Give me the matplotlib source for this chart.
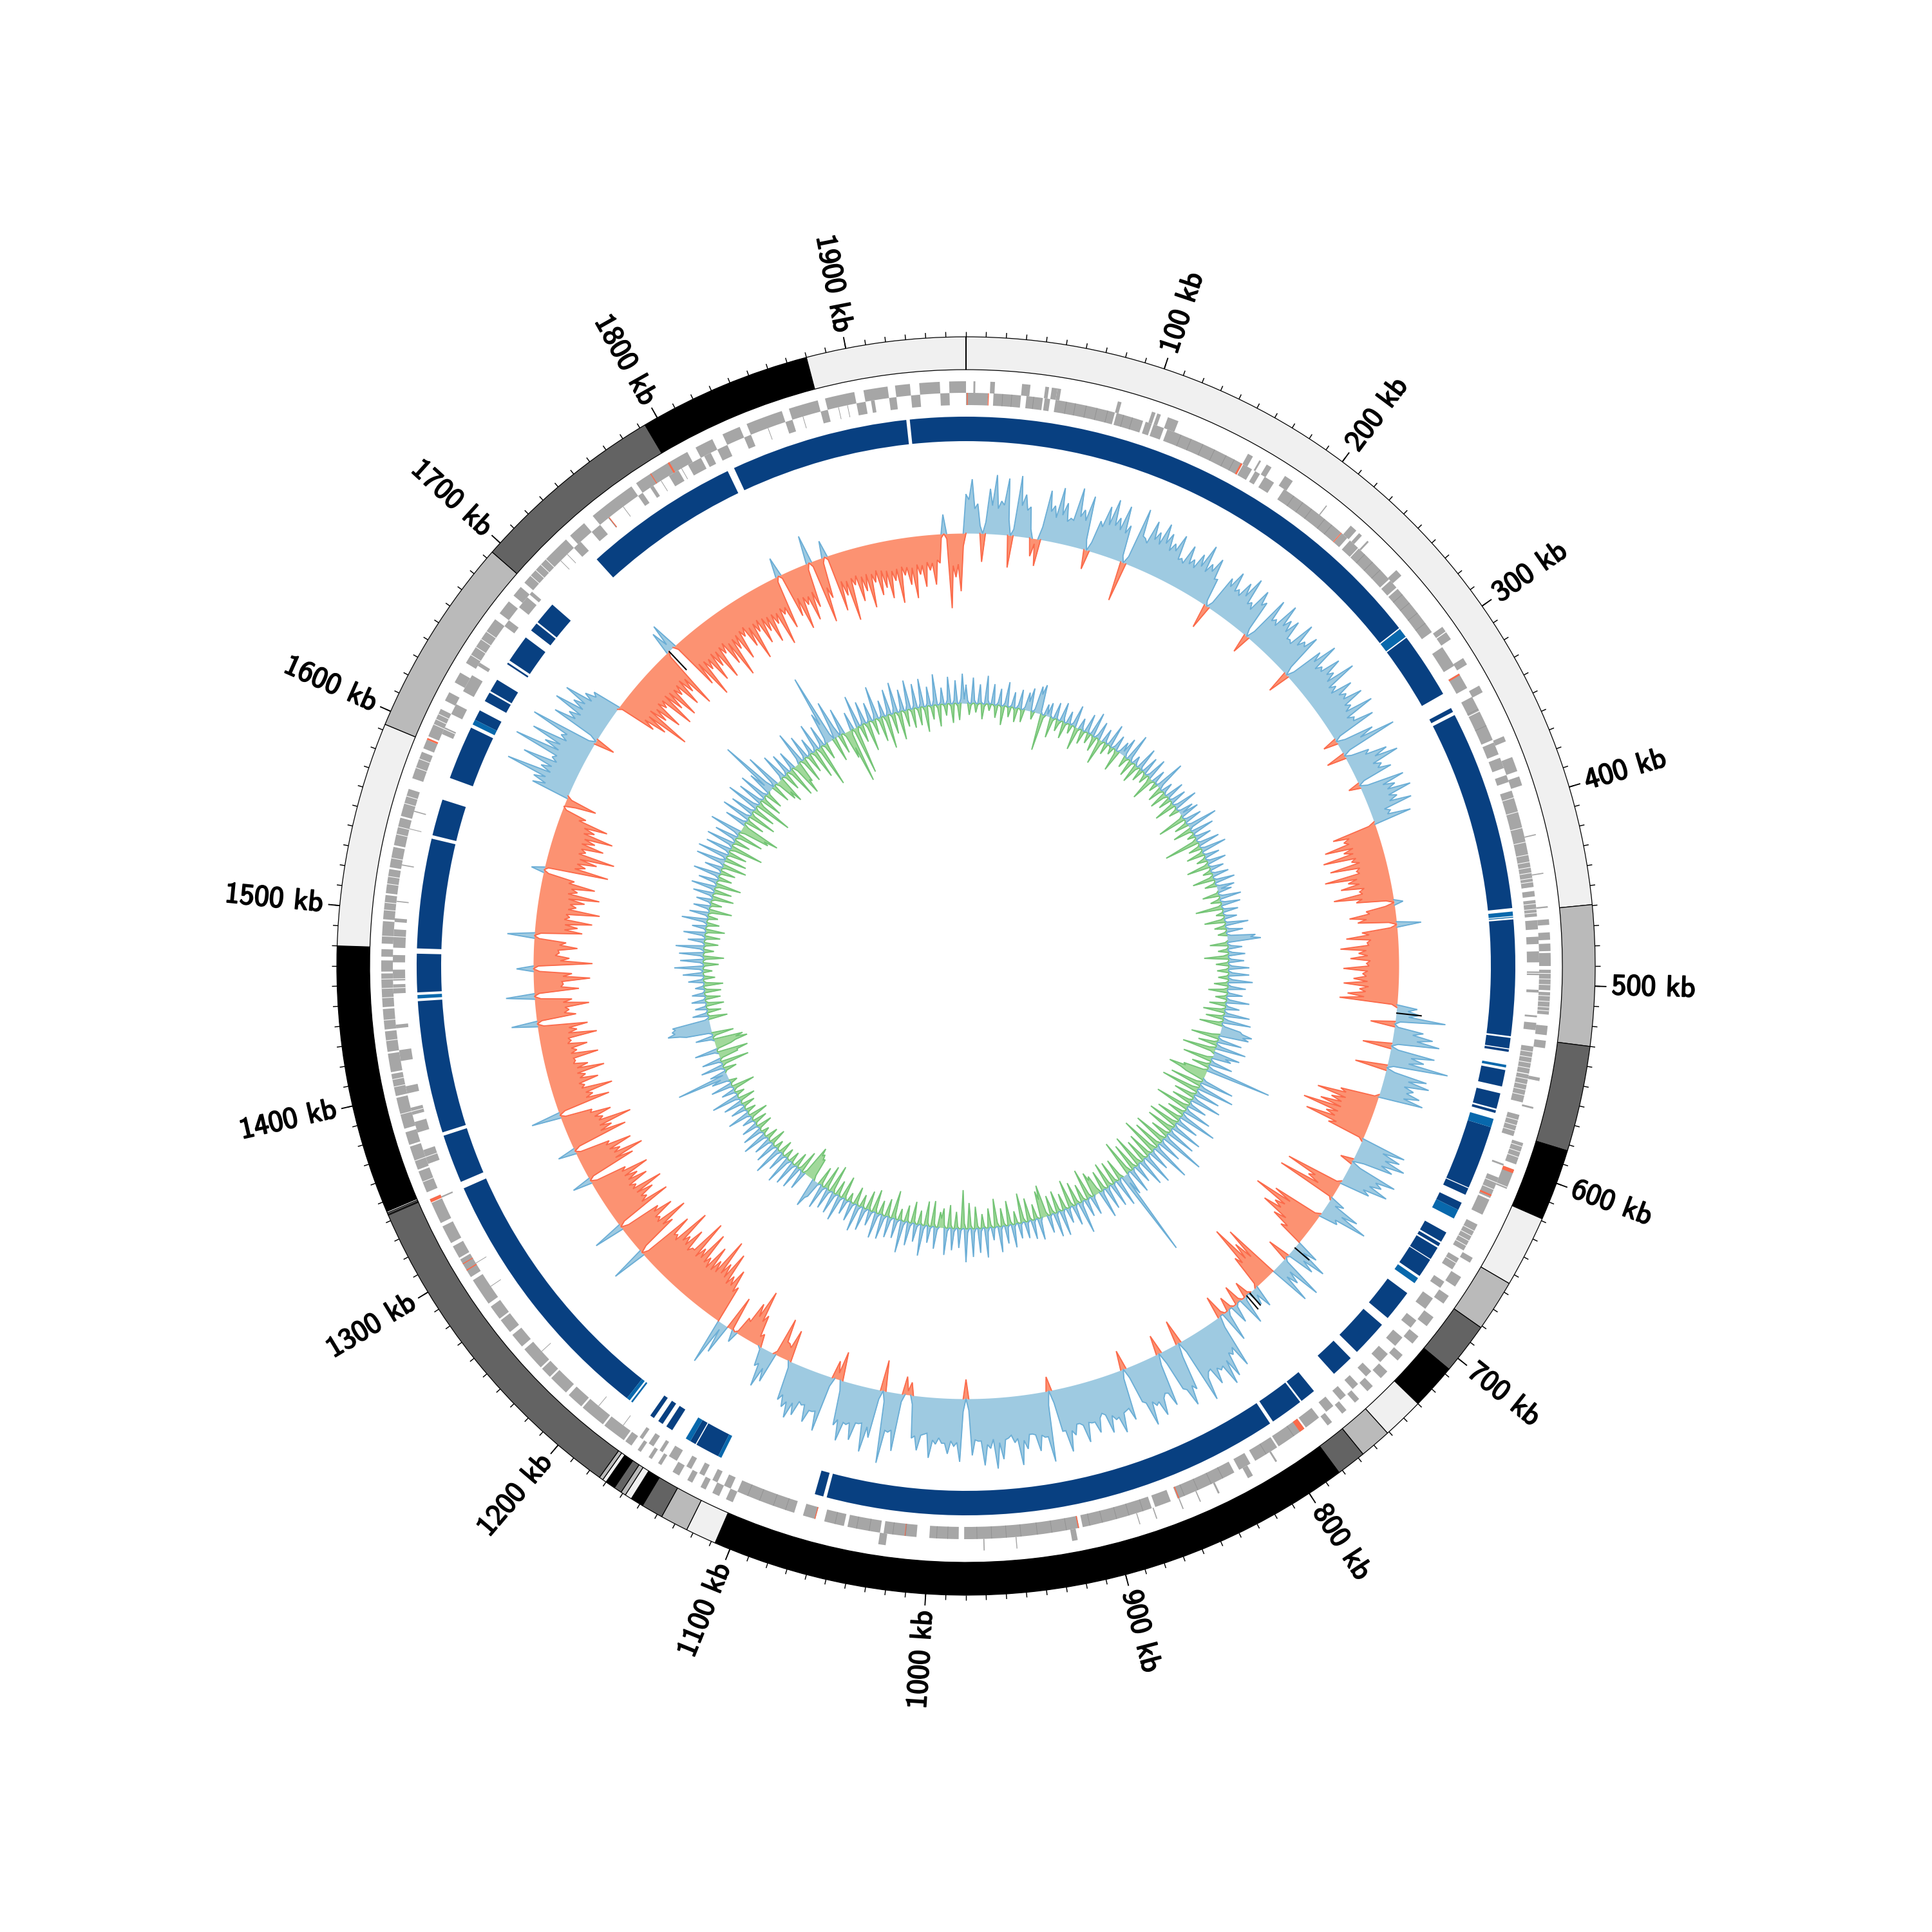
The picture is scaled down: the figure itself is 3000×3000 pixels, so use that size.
import numpy as np
import matplotlib
matplotlib.use("Agg")
import matplotlib.pyplot as plt
import matplotlib.patheffects as pe

TOTAL_KB = 1960
WINDOW_KB = 4

#outer ring: end of every segment (kb) and its shade
ring_ends = [459.5, 530, 583, 619, 655, 681, 707, 730, 751, 767, 782, 1108, 1123.5, 1137.5, 1148.5, 1155, 1158.5,
             1161, 1165, 1170, 1172, 1174, 1343, 1343.5, 1344.2, 1345, 1480, 1593, 1694, 1793, 1880, 1960]
ring_shades = ['l', 'g', 'd', 'k', 'l', 'g', 'd', 'k', 'l', 'g', 'd', 'k', 'l', 'g', 'd', 'k', 'l',
               'g', 'd', 'k', 'l', 'g', 'd', 'l', 'g', 'l', 'k', 'l', 'g', 'd', 'k', 'l']
shade_colors = {'l': '#f0f0f0', 'g': '#bababa', 'd': '#636363', 'k': '#000000'}

tick_labels = ["100 kb", "200 kb", "300 kb", "400 kb", "500 kb", "600 kb", "700 kb", "800 kb", "900 kb", "1000 kb",
               "1100 kb", "1200 kb", "1300 kb", "1400 kb", "1500 kb", "1600 kb", "1700 kb", "1800 kb", "1900 kb"]
tick_kb = [100, 200, 300, 400, 500, 600, 700, 800, 900, 1000, 1100, 1200, 1300, 1400, 1500, 1600, 1700, 1800, 1900]

#genes on the two strands (start, end in kb)
inner_genes = [(0, 12), (15, 30), (33, 42), (43, 46), (49, 82), (83, 98), (99.5, 103), (104, 110), (112, 157),
               (157.5, 163), (165, 168), (171, 177), (183.5, 222.5), (223, 227), (229, 235), (235.5, 259), (260, 265),
               (266, 296), (306, 318), (323, 332), (337.5, 346), (346.5, 363.5), (365, 372), (374, 380), (384, 388),
               (393, 447), (449, 452), (454, 463), (465, 470), (474, 478), (482, 488), (493, 495), (503, 504.5),
               (517, 518), (521, 525), (534, 549), (549.5, 565), (572, 584), (600, 601), (608, 620), (621, 630),
               (636, 652), (657, 664), (672, 676), (683, 690), (698, 703), (710, 716), (722, 728), (735, 739),
               (745, 749), (754, 758), (763, 768), (773, 782), (783, 800), (801, 815), (818, 825), (828, 862),
               (866, 875), (877, 916), (918, 981), (984, 1000), (1007, 1025), (1027, 1045), (1047, 1058), (1063, 1070),
               (1075, 1108), (1112, 1116), (1120, 1123), (1128, 1131), (1136, 1139), (1145, 1150), (1154, 1156),
               (1160, 1163), (1167, 1169), (1340, 1341), (1360, 1368), (1378, 1384), (1388, 1392), (1400, 1404),
               (1418, 1424), (1436, 1438), (1455, 1460), (1462, 1468), (1472, 1476), (1480, 1490), (1494, 1496),
               (1505, 1505.6), (1525, 1525.6), (1545, 1545.6), (1555, 1555.6), (1600, 1604), (1612, 1618), (1626, 1636),
               (1642, 1644), (1668, 1672), (1681, 1688), (1690, 1692), (1725, 1730), (1738, 1744), (1770, 1773),
               (1778, 1780), (1790, 1796), (1802, 1810), (1812, 1816), (1820, 1826), (1836, 1840), (1860, 1864),
               (1880, 1884), (1900, 1905), (1908, 1910), (1918, 1922), (1930, 1935), (1946, 1951)]
outer_genes = [(4, 5), (13, 15.5), (30, 34.5), (42.5, 44.5), (46, 49), (49, 51), (82, 84), (101, 103), (104, 106),
               (110, 116), (157, 160), (164, 165), (168.5, 171.5), (180, 185), (207, 207.6), (224, 228), (230, 232),
               (236, 237), (258, 262), (297, 300), (300.5, 305), (317, 321), (334, 338), (364, 367), (376, 384),
               (387, 392), (419, 419.6), (440, 440.6), (458, 459), (465, 468), (472, 476), (478, 482), (483, 490),
               (492, 503), (504, 516), (522, 527), (530, 534), (550, 552), (566, 567), (586, 598), (601, 612),
               (653, 656), (665, 671), (677, 682), (691, 697), (704, 709), (717, 721), (729, 734), (740, 744),
               (750, 753), (759, 762), (769, 772), (805, 806), (820, 823), (840, 841), (851, 851.6), (861, 861.6),
               (876, 876.6), (885.5, 886), (920, 923), (952.5, 953), (970, 970.6), (1023, 1027), (1108, 1112),
               (1116, 1120), (1124, 1127), (1132, 1135), (1140, 1144), (1151, 1153), (1157, 1159), (1164, 1166),
               (1170, 1174), (1175, 1188), (1189, 1203), (1204, 1213), (1215, 1226), (1227, 1233), (1234, 1247),
               (1249, 1257), (1259, 1267), (1268, 1276), (1278, 1293), (1295, 1306), (1307, 1314), (1316, 1326),
               (1328, 1342), (1346, 1358), (1359, 1372), (1373, 1380), (1382, 1399), (1400, 1412), (1413, 1423),
               (1424, 1435), (1436, 1447), (1448, 1466), (1467, 1473), (1475, 1479), (1482, 1494), (1495, 1508),
               (1509, 1522), (1523, 1534), (1535, 1550), (1551, 1566), (1572, 1587), (1589, 1594), (1596, 1612),
               (1617, 1622), (1628, 1634), (1640, 1668), (1672, 1680), (1684, 1690), (1693, 1725), (1728, 1738),
               (1744, 1770), (1773, 1805), (1810, 1820), (1826, 1836), (1840, 1860), (1864, 1880), (1884, 1900),
               (1905, 1918), (1922, 1930), (1935, 1946), (1951, 1960)]
inner_red = [(0.5, 1), (12, 12.5), (156, 157), (222.5, 223), (323, 324), (618, 619), (783, 786), (861, 861.6), (918, 918.6),
             (1013, 1013.5), (1063, 1063.5), (1750, 1750.6)]
outer_red = [(601, 603), (1299, 1299.6), (1303, 1303.5), (1340, 1342), (1594, 1595), (1782, 1782.5), (1793, 1794)]
gene_white = [397, 405, 414, 422, 429, 433, 436, 439, 442, 444, 447, 456, 459, 461, 494, 497, 500, 506, 509, 512, 514,
              537, 540, 543, 546, 552, 555, 558, 561, 575, 578, 581, 588, 591, 594, 611, 615, 640, 643, 646, 649, 660,
              1340, 1352, 1364, 1390, 1405, 1409, 1430, 1441, 1453, 1458, 1463, 1486, 1500, 1504, 1514, 1518, 1528, 1541,
              1545, 1558, 1562, 1578, 1583, 1603, 1606, 1609, 1645, 1650, 1655, 1660, 1698, 1702, 1706, 1710]
gene_dark = [20, 25, 37, 55, 60, 66, 72, 78, 87, 92, 120, 126, 133, 140, 147, 152, 190, 196, 202, 211, 216, 240, 246, 252,
             270, 276, 283, 290, 345, 355, 790, 808, 835, 842, 850, 858, 882, 890, 897, 905, 912, 925, 933, 941, 950, 958,
             966, 974, 990, 996, 1013, 1020, 1033, 1040, 1052, 1080, 1087, 1095, 1102, 1180, 1197, 1240, 1285, 1300, 1715,
             1720, 1750, 1760, 1785, 1798, 1850, 1870, 1890, 1895]

#conserved blocks, dark and medium blue (start, end in kb)
block_dark = [(0, 283.3), (290.2, 328.3), (337.5, 340), (342, 457), (463.5, 530), (531, 537), (537.6, 539), (549.5, 559),
              (563, 572), (573, 574.5), (583, 619.5), (620, 624), (629, 633.5), (648, 654), (655, 657), (658, 665.5),
              (666, 677), (689, 707), (712, 733), (738, 751), (766, 775), (776, 795), (797, 1060), (1062, 1067),
              (1126, 1140), (1140.6, 1144), (1156, 1160), (1162.5, 1165.5), (1168.5, 1171), (1187.5, 1340), (1344, 1372),
              (1374, 1450), (1455, 1477), (1480, 1543), (1545, 1566), (1579, 1610), (1615, 1621), (1627, 1632.5),
              (1633.5, 1641), (1651.5, 1652.5), (1654, 1670), (1675, 1680), (1681, 1694), (1730, 1820), (1824, 1926),
              (1928, 1960)]
block_medium = [(284, 289.5), (459, 461.5), (462, 462.5), (546.5, 548), (578, 583), (633.5, 639), (678.5, 682), (1124, 1126),
                (1144, 1147), (1183.5, 1184.5), (1185.5, 1187.5), (1451.5, 1453.5), (1612, 1615)]

#skew track, peaks every WINDOW_KB and the value halfway to the next one
skew = [60, 84, 46, -44, 70, 92, 52, 88, -50, 94, 66, 48, -28, -42, 78, 56, 86, 64, 42, 92, 60, 84, -30, 50, 76,
        90, 64, 86, 58, -62, 92, 48, 80, 66, 84, 72, 60, 78, 44, 70, 52, 66, 86, 60, 74, 44, -38, 58, 74, 50,
        68, 82, 46, 74, 60, -30, 78, 50, 84, 64, 70, 42, 80, 56, 72, -35, 62, 84, 50, 76, 58, 88, 48, 70, 54,
        76, 50, 82, 44, 72, -22, 60, 92, -30, 38, 64, 78, 46, 58, -18, 70, 52, 74, 48, 68, 30, 60, -70, -55, -88,
        -60, -95, -52, -88, -48, -100, -65, -78, -50, -92, -58, 14, -45, -72, -60, 38, -55, -80, -48, -90, -62, -75, -50, -86, -56,
        -70, -85, -60, -78, -90, 32, 36, 78, -38, 46, 62, 74, -45, 70, 55, 95, -50, 66, 72, 50, 62, 70, -60, -95, -70,
        -85, -110, -70, -100, -60, 72, 68, 80, 64, -20, 78, 60, 74, 48, -90, -50, -95, 25, 55, 75, 30, -80, -110, -70, -85,
        -60, -40, 38, 60, 45, -35, 72, 40, 66, -90, -70, -105, -55, 35, 25, -25, 45, -30, 30, -22, 50, -35, 85, 60, 92,
        100, 70, 88, 62, 105, -38, 76, 98, 66, -30, 84, 60, 92, 72, 100, 58, -30, 80, 62, 94, 70, 88, 54, 82, 64,
        92, 60, 76, 100, 66, -22, 110, 70, 90, 62, 84, 108, 72, 64, 96, 110, 78, 104, 66, 88, -30, 98, 74, 86, 70,
        72, 94, 58, 84, 66, -20, -28, 90, 62, 112, -48, 76, 100, 58, 86, 64, 92, 70, -45, -28, 88, 60, 80, 56, 76,
        84, 70, 62, -50, -25, -62, 48, 60, 30, -20, -48, -85, -60, -30, 18, -55, 48, 72, -60, -85, -70, -105, -82, -118, -76,
        -95, -70, -108, -75, -118, -62, -90, -72, -112, -60, -88, 55, -70, -100, -58, -86, -66, 48, -94, -62, -78, -98, -58, -82, -70,
        -92, -58, 30, -80, -100, -66, -88, -55, 28, -90, -70, -105, -62, -78, -50, 46, -84, -60, -94, -52, -76, -58, -90, -66, -48,
        -86, -54, -72, -48, -90, -60, -78, 40, -62, -52, -84, -58, 44, -70, -46, -88, -60, 26, -92, -56, -40, -68, -50, 42, -74,
        -66, -88, -52, -98, -60, -72, -94, -58, -84, -50, 20, -100, -62, -78, -104, -56, -82, -66, -92, -60, -78, -40, 0, -50, 60,
        62, 110, 58, 92, 48, 115, 70, 96, 52, 106, -32, 80, 60, 90, 64, 84, 55, 45, -63, -80, -114, -70, -90, -58, -100,
        -76, -96, -62, -88, -70, -100, 36, 44, -82, -108, -66, -92, -72, -98, -60, -84, -110, -68, -90, -56, -78, -104, -62, -86, -70,
        -92, -66, -104, -58, -84, 30, -72, -96, -60, -88, -70, 44, -100, -64, 26, -90, -68, -110, -56, -84, -70, -98, -60, -82, -72,
        -90, -64, -100, -58, -74, -96, -60, -80, -55, -78, -45, 30, -116, -68, -90]
skew_mid = [52, 38, 12, 18, 44, 40, 46, 24, 10, 48, 42, 14, -8, 20, 46, 38, 44, 36, 40, 48, 44, 16, 14, 42, 48,
            50, 46, 44, 10, 12, 50, 42, 52, 48, 54, 46, 50, 40, 38, 42, 40, 48, 44, 50, 42, 8, 10, 46, 44, 42,
            48, 40, 36, 52, 12, 14, 44, 42, 50, 46, 40, 38, 44, 50, 14, 12, 46, 40, 44, 48, 42, 38, 36, 44, 46,
            42, 38, 34, 40, 10, 14, 36, 12, 10, 30, 42, 34, 38, 10, 12, 34, 38, 36, 34, 22, 24, -10, -45, -48, -44,
            -46, -44, -40, -42, -44, -50, -48, -42, -46, -48, -12, -14, -40, -46, -12, -10, -44, -42, -46, -50, -48, -44, -46, -48, -50,
            -48, -46, -50, -52, -8, 18, 20, 8, 6, 30, 38, 10, 12, 34, 32, 10, 14, 38, 34, 40, 38, -6, -50, -48, -52,
            -50, -52, -54, -48, -6, 38, 46, 44, 18, 16, 48, 42, 36, -6, -40, -30, -4, 12, 30, 24, -8, -50, -54, -56, -40,
            -30, 0, 16, 24, 4, 6, 20, 22, 0, -40, -44, -42, -6, 10, -4, 6, -5, 4, -4, 8, -6, 18, 50, 54, 62,
            66, 64, 60, 70, 18, 22, 68, 70, 20, 18, 62, 66, 68, 64, 62, 16, 14, 60, 64, 68, 62, 58, 60, 64, 62,
            64, 60, 68, 66, 20, 22, 70, 66, 64, 62, 70, 66, 60, 66, 70, 64, 72, 66, 64, 18, 20, 68, 66, 70, 62,
            66, 56, 60, 62, 14, -6, 12, 58, 60, 16, 14, 60, 56, 58, 60, 62, 60, 16, -10, 14, 58, 60, 54, 52, 58,
            60, 52, 10, -20, -26, -6, 28, 24, 4, -14, -36, -40, -26, -4, -3, 0, 10, 0, -50, -56, -54, -60, -62, -58, -56,
            -54, -58, -60, -56, -62, -54, -58, -60, -52, -56, -10, -12, -54, -50, -52, -56, -12, -10, -50, -54, -52, -50, -48, -52, -50,
            -50, -10, -8, -52, -54, -50, -48, -8, -10, -50, -52, -54, -50, -46, -8, -10, -48, -50, -46, -44, -48, -46, -48, -44, -46,
            -44, -46, -42, -44, -46, -48, -10, -8, -44, -46, -44, -10, -8, -42, -44, -46, -10, -8, -42, -34, -38, -40, -8, -10, -46,
            -46, -44, -46, -48, -50, -46, -44, -48, -42, -8, -6, -46, -48, -50, -46, -48, -46, -48, -44, -42, -30, -6, -18, -8, 40,
            44, 40, 42, 38, 42, 44, 46, 40, 44, 10, 12, 46, 42, 44, 46, 40, 38, -6, -44, -46, -42, -48, -44, -46, -44,
            -46, -48, -46, -44, -48, -8, 10, -8, -46, -48, -50, -46, -48, -46, -44, -50, -48, -46, -44, -42, -48, -46, -44, -46, -48,
            -48, -50, -46, -48, -8, -6, -44, -46, -48, -44, -10, -8, -46, -8, -6, -44, -46, -44, -42, -46, -44, -46, -42, -44, -46,
            -48, -46, -44, -46, -48, -44, -46, -42, -44, -40, -6, -8, -50, -48, -20]
skew_black_kb = [524, 711, 757, 760, 1724]
skew_black = [40, 30, 26, 28, -40]

#gc track, same layout as the skew
gc = [28, -18, 40, -14, 30, -24, 44, -10, 32, -20, 26, -30, 38, -16, 24, -22, 30, -20, 28, 36, -12, 42, 46, -57, 18,
      22, -32, 26, -18, 30, -26, 20, -14, 34, -36, 18, -22, 30, -16, 38, -24, 28, -40, 22, -18, 36, -12, 24, -34, 20,
      30, -18, 44, -26, 14, -30, 36, -20, 28, -16, 34, -38, 22, -14, 48, -24, 18, -28, 30, -20, 26, -34, 38, -16, 24,
      30, -44, 28, -22, 48, -30, 36, -12, 26, -55, 34, -20, 40, -28, 24, -16, 30, -36, 22, -14, 26, -34, 32, -18, 28,
      22, -26, 34, -16, 30, -42, 24, -12, 20, -32, 36, -18, 26, -14, 44, 52, -28, 22, -16, 26, -38, 24, -20, 32, -18,
      32, -16, 38, -22, 28, -30, 24, -18, 36, -26, 22, -34, 40, -28, 44, -36, 30, 50, 46, -44, 38, -30, 48, -52, 42,
      30, -46, 36, -28, 103, -38, -60, -30, 52, -50, 58, -60, 40, -34, 48, -32, 30, -54, 44, -28, 60, -40, 36, -48, 50,
      -44, 46, -30, 70, -52, 38, -46, 62, -60, 34, -40, 50, -36, 44, -52, 30, -44, 40, -56, 36, 138, -34, 44, -36, 38,
      -40, 36, -32, 44, -30, -38, 30, -48, 28, -28, 50, -36, 32, -44, 24, -26, 40, -34, 38, -30, 28, -50, -42, 34, -24,
      30, -36, 26, -46, 24, -20, 36, -38, 28, -28, 40, -44, 20, -30, 46, -22, 38, -34, 44, -40, 52, -60, 30, -26, 34,
      -36, 42, -30, -24, 34, -40, 26, -38, 48, -22, 28, -34, 36, -26, 50, -18, 30, -44, 32, -28, 38, -22, 40, -36, 24,
      -30, 36, -20, 42, -28, 30, -14, 24, -36, 40, -24, 34, -44, 32, -38, 38, -30, 26, 46, -36, -42, -50, 30, -34, 36,
      -24, 38, -18, 44, -16, 30, -22, 46, -14, 34, -26, 28, -20, 40, -12, 32, -24, 26, -22, 18, -30, 36, -16, 24, -20,
      30, -26, 44, -14, 22, -36, 34, -12, 28, 82, 26, -20, 36, -44, 30, -30, -48, 36, -24, -52, -46, 28, -34, 40, 68,
      60, 58, -30, 24, -22, 18, -28, 22, -24, 20, -26, 14, -30, 24, -18, 32, -14, 45, -24, 36, -32, 38, -16, 44, -22,
      26, -24, 34, -30, 22, -20, 40, -16, 30, -36, 26, -18, 24, -34, 32, -28, 38, -40, 30, -22, 42, -24, 28, -38, 46,
      -34, 48, -30, 40, -52, 44, -26, 36, -42, 50, -48, -62, 34, -30, 46, -44, 38, -36, 52, -58, 40, -34, 46, -28, 38,
      92, -30, 56, -36, -44, 42, -28, 34, -48, 30, -52, -34, 52, -40, 38, -30, 26, -46, 44, -66, 34, -26, 50, 110, -38,
      60, -30, 42, -44, -85, 28, -75, 50, -28, 36, -46, 30, -24, 52, -38, 26, -52, 40, -32, 48, -44, 34, -26, 46, -30,
      38, -28, 44, -40, 30, -22, 48, -34, 26, -18, 42, -30, 36, -26, 46]
gc_mid = [4, -3, 5, -2, 3, -4, 6, 2, -3, 4, -3, 5, -2, 3, -4, 5, -3, 4, 14, 3, 5, 30, 4, -5, 3,
          3, -4, 2, -5, 6, -3, 4, 5, -3, -4, 5, -2, 4, 3, -5, 6, -4, -6, 4, 3, -2, 5, -6, 4, 6,
          5, -4, 6, -3, 4, -6, 5, 3, -4, 5, -8, -5, 3, 4, 8, -5, 4, -6, 3, 5, -4, 6, -3, 4, 5,
          -5, 4, -3, 6, 5, -4, 3, 5, -7, 4, -3, 6, -5, 3, -4, 5, -6, 4, -3, 5, -6, 4, -3, 5, 6,
          -3, 5, -4, 6, -5, 3, -2, 4, -5, 3, -4, 5, -3, 6, 36, -4, 5, -3, 6, -8, 4, -3, 5, -4, 6,
          -3, 6, -4, 5, -6, 3, -4, 5, -3, 4, -6, 5, -4, 8, -6, 5, 34, 36, -12, 6, -5, 8, -10, -6, 20,
          -8, 6, -5, 8, -6, -34, -40, 6, -8, 8, -10, 6, -6, 8, -5, 4, -8, 6, -4, 8, -6, 5, -8, 6, -10,
          6, -5, 8, -8, 5, -6, 8, -10, 4, -5, 6, -4, 5, -8, 4, -6, 5, -9, 4, 14, -6, 5, -4, 3, -5,
          5, -4, 6, -8, -24, 4, -6, 3, -4, 6, -5, 4, -6, 3, -3, 5, -4, 4, -5, 3, -6, -28, 5, -3, 4,
          -4, 3, -6, 3, -2, 4, -5, 3, -4, 5, -6, 2, -4, 6, -3, 5, -4, 6, -5, 6, -8, 3, -3, 5, -5,
          5, -4, -14, 4, -5, 3, -5, 6, -3, 4, -4, 5, -3, 6, -2, 4, -6, 4, -4, 5, -3, 5, -5, 3, -4,
          5, -3, 5, -4, 4, -2, 3, -5, 5, -3, 4, -6, 4, -5, 5, -4, 3, 30, -8, -34, -38, -6, 4, -5, -3,
          5, -2, 6, -2, 4, -3, 6, -2, 4, -3, 4, -3, 5, -2, 4, -3, 3, -3, 2, -4, 5, -2, 3, -3, 4,
          -3, 6, -2, 3, -5, 4, -2, 4, 12, 6, -3, 5, -6, 4, -4, -30, 5, -3, -32, -34, 4, -5, 5, 50, 56,
          54, 6, -3, 3, -3, 2, -4, 3, -3, 3, -4, 2, -4, 3, -2, 4, 6, -3, 5, -4, 5, -2, 6, -3, 4,
          -3, 5, -4, 3, -3, 6, -2, 4, -5, 4, -3, 4, -5, 5, -4, 6, -6, 4, -3, 6, -3, 4, -5, 6, 8,
          6, -4, 6, -8, 6, -4, 5, -6, 8, -8, -40, -8, 5, -4, 6, -6, 5, -5, 8, -8, 5, -5, 6, -4, 12,
          14, 8, -6, -24, 6, -4, 5, -7, 4, -8, -30, 8, -6, 5, -4, 4, -6, 6, -8, 5, -4, 8, 30, 10, 20,
          16, 6, -6, -28, -8, -6, -8, -4, 5, -7, 4, -3, 8, -5, 4, -8, 6, -4, 8, -6, 5, -4, 7, -4, 5,
          -4, 6, -6, 4, -3, 8, -5, 4, -3, 6, -4, 5, -4, 7, 6]


def to_rad(kb):
    #position on the genome to angle
    return np.asarray(kb, dtype=float) / TOTAL_KB * 2 * np.pi


def draw_spans(ax, spans, r0, r1, color, lw=0.0, edge=None):
    starts = np.array([s[0] for s in spans])
    ends = np.array([s[1] for s in spans])
    ax.bar(to_rad(starts), r1 - r0, width=to_rad(ends - starts), bottom=r0, align='edge',
           color=color, linewidth=lw, edgecolor=edge)


def draw_track(ax, peaks, mids, base, up_fill, up_line, down_fill, down_line):
    vals = np.column_stack((peaks, mids)).ravel()
    #closes the circle with the first value again
    vals = np.append(vals, peaks[0]).astype(float)
    theta = to_rad(np.arange(len(vals)) * WINDOW_KB / 2)
    for part, fill, line in [(np.maximum(vals, 0), up_fill, up_line), (np.minimum(vals, 0), down_fill, down_line)]:
        ax.fill_between(theta, base, base + part, color=fill, linewidth=0)
        visible = part != 0
        show = visible | np.roll(visible, 1) | np.roll(visible, -1)
        ax.plot(theta, np.where(show, base + part, np.nan), color=line, linewidth=0.45, solid_joinstyle='miter')


fig = plt.figure(figsize=(10, 10), dpi=300)
ax = fig.add_axes([0, 0, 1, 1], projection='polar')
ax.set_theta_zero_location('N')
ax.set_theta_direction(-1)

#skew
draw_track(ax, skew, skew_mid, 672, '#9ecae1', '#6baed6', '#fc9272', '#fb6a4a')
ax.vlines(to_rad(skew_black_kb), 672, 672 + np.array(skew_black), color='black', linewidth=0.5)

#gc
draw_track(ax, gc, gc_mid, 408, '#9ecae1', '#6baed6', '#a1d99b', '#74c476')

#conserved blocks
draw_spans(ax, block_dark, 815, 853, '#084081')
draw_spans(ax, block_medium, 815, 853, '#0868ac')

#genes
draw_spans(ax, inner_genes, 871, 890, '#a6a6a6')
draw_spans(ax, outer_genes, 890, 908, '#a6a6a6')
ax.vlines(to_rad(gene_dark), 871, 890, color='#8f8f8f', linewidth=0.2)
ax.vlines(to_rad(gene_white), 871, 908, color='white', linewidth=0.25)
draw_spans(ax, inner_red, 871, 890, '#fb6a4a')
draw_spans(ax, outer_red, 890, 908, '#fb6a4a')

#outer ring
ring_starts = [0] + ring_ends[:-1]
ring_colors = [shade_colors[s] for s in ring_shades]
draw_spans(ax, list(zip(ring_starts, ring_ends)), 926, 977, ring_colors, lw=0.3, edge='black')
ax.vlines(0, 926, 977, color='black', linewidth=0.5)

#ticks and labels
minor_kb = np.arange(0, TOTAL_KB, 10)
ax.vlines(to_rad(minor_kb), 977, 985, color='black', linewidth=0.35)
ax.vlines(to_rad(tick_kb), 977, 995, color='black', linewidth=0.45)
for kb, label in zip(tick_kb, tick_labels):
    deg = kb / TOTAL_KB * 360
    if deg < 180:
        rot, ha = 90 - deg, 'left'
    else:
        rot, ha = 270 - deg, 'right'
    txt = ax.text(to_rad(kb), 1003, label, rotation=rot, rotation_mode='anchor', ha=ha, va='center',
                  fontsize=11, family=['cmss10', 'Liberation Sans Narrow', 'DejaVu Sans'])
    txt.set_path_effects([pe.withStroke(linewidth=0.45, foreground='black')])

ax.set_ylim(0, 1500)
ax.set_axis_off()
fig.savefig('out.png', dpi=300)
